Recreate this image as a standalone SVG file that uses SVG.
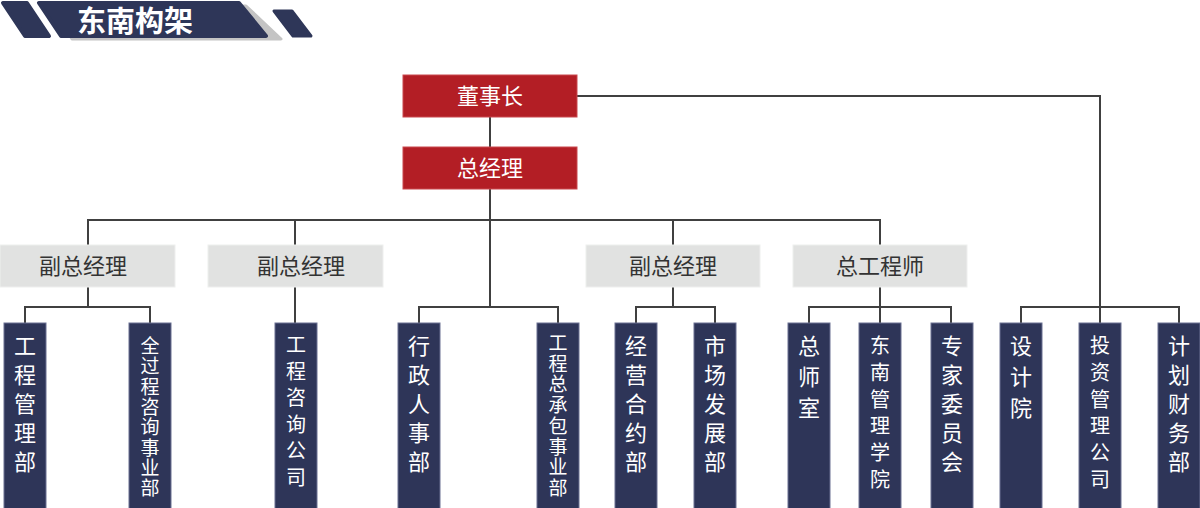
<svg xmlns="http://www.w3.org/2000/svg" width="1200" height="508" viewBox="0 0 1200 508">
<style>
.red{fill:#B31E25;stroke:#C9494E;stroke-width:1}
.gray{fill:#E1E2E1;stroke:#EEEFEE;stroke-width:1}
.dark{fill:#2E3558;stroke:#6A7092;stroke-width:1}
.tw{font-family:"Noto Sans CJK SC","Noto Sans",sans-serif;fill:#FFFFFF;font-size:22px;text-anchor:middle}
.tg{font-family:"Noto Sans CJK SC","Noto Sans",sans-serif;fill:#333333;font-size:22px;text-anchor:middle}
.tv{font-family:"Noto Sans CJK SC","Noto Sans",sans-serif;fill:#FFFFFF;font-size:22px;text-anchor:middle}
.tv6{font-family:"Noto Sans CJK SC","Noto Sans",sans-serif;fill:#FFFFFF;font-size:20px;text-anchor:middle}
.tv8{font-family:"Noto Sans CJK SC","Noto Sans",sans-serif;fill:#FFFFFF;font-size:19px;text-anchor:middle}
.ln{fill:none;stroke:#404040;stroke-width:2}
</style>
<g id="header">
<polygon points="3,3 27,3 49,36 25,36" fill="#2E3658" stroke="#2E3658" stroke-width="4" stroke-linejoin="round"/>
<polygon points="52,6 246,6 281,39 72,39" fill="#C4C4C4" stroke="#C4C4C4" stroke-width="3" stroke-linejoin="round"/>
<polygon points="39,3 239,3 266,36 61,36" fill="#2E3658" stroke="#2E3658" stroke-width="4" stroke-linejoin="round"/>
<polygon points="274,11 292,11 311,36 293,36" fill="#2E3658" stroke="#2E3658" stroke-width="3" stroke-linejoin="round"/>
<text x="135" y="32" style="font-family:'Noto Sans CJK SC',sans-serif;font-weight:bold;font-size:29px;fill:#FFFFFF;text-anchor:middle">东南构架</text>
</g>
<g id="connectors">
<path class="ln" d="M490,117 V147"/>
<path class="ln" d="M490,189 V307"/>
<path class="ln" d="M88,245 V220 H880 V245"/>
<path class="ln" d="M295,220 V245"/>
<path class="ln" d="M673,220 V245"/>
<path class="ln" d="M88,287 V307"/>
<path class="ln" d="M25,323 V307 H150 V323"/>
<path class="ln" d="M295,287 V323"/>
<path class="ln" d="M419,323 V307 H558 V323"/>
<path class="ln" d="M673,287 V307"/>
<path class="ln" d="M636,323 V307 H715 V323"/>
<path class="ln" d="M880,287 V323"/>
<path class="ln" d="M809,323 V307 H951 V323"/>
<path class="ln" d="M577,96 H1100 V323"/>
<path class="ln" d="M1021,323 V307 H1179 V323"/>
</g>
<g id="n-chairman"><rect class="red" x="403" y="75" width="174" height="42"/><text class="tw" x="490" y="104">董事长</text></g>
<g id="n-gm"><rect class="red" x="403" y="147" width="174" height="42"/><text class="tw" x="490" y="176">总经理</text></g>
<g id="n-vgm1"><rect class="gray" x="0" y="245" width="175" height="42"/><text class="tg" x="83" y="274">副总经理</text></g>
<g id="n-vgm2"><rect class="gray" x="208" y="245" width="175" height="42"/><text class="tg" x="301" y="274">副总经理</text></g>
<g id="n-vgm3"><rect class="gray" x="586" y="245" width="174" height="42"/><text class="tg" x="673" y="274">副总经理</text></g>
<g id="n-ce"><rect class="gray" x="793" y="245" width="174" height="42"/><text class="tg" x="880" y="274">总工程师</text></g>
<g id="n-d1"><rect class="dark" x="4" y="323" width="42" height="186"/><text class="tv"><tspan x="25" y="354">工</tspan><tspan x="25" y="383">程</tspan><tspan x="25" y="412">管</tspan><tspan x="25" y="441">理</tspan><tspan x="25" y="470">部</tspan></text></g>
<g id="n-d2"><rect class="dark" x="129" y="323" width="42" height="186"/><text class="tv8"><tspan x="150" y="353">全</tspan><tspan x="150" y="373.3">过</tspan><tspan x="150" y="393.6">程</tspan><tspan x="150" y="413.9">咨</tspan><tspan x="150" y="434.2">询</tspan><tspan x="150" y="454.5">事</tspan><tspan x="150" y="474.8">业</tspan><tspan x="150" y="495">部</tspan></text></g>
<g id="n-d3"><rect class="dark" x="275" y="323" width="42" height="186"/><text class="tv6"><tspan x="296" y="352">工</tspan><tspan x="296" y="378.6">程</tspan><tspan x="296" y="405.2">咨</tspan><tspan x="296" y="431.8">询</tspan><tspan x="296" y="458.4">公</tspan><tspan x="296" y="485">司</tspan></text></g>
<g id="n-d4"><rect class="dark" x="398" y="323" width="42" height="186"/><text class="tv"><tspan x="419" y="354">行</tspan><tspan x="419" y="383">政</tspan><tspan x="419" y="412">人</tspan><tspan x="419" y="441">事</tspan><tspan x="419" y="470">部</tspan></text></g>
<g id="n-d5"><rect class="dark" x="537" y="323" width="42" height="186"/><text class="tv8"><tspan x="558" y="350">工</tspan><tspan x="558" y="370.7">程</tspan><tspan x="558" y="391.4">总</tspan><tspan x="558" y="412.1">承</tspan><tspan x="558" y="432.8">包</tspan><tspan x="558" y="453.5">事</tspan><tspan x="558" y="474.2">业</tspan><tspan x="558" y="495">部</tspan></text></g>
<g id="n-d6"><rect class="dark" x="615" y="323" width="42" height="186"/><text class="tv"><tspan x="636" y="354">经</tspan><tspan x="636" y="383">营</tspan><tspan x="636" y="412">合</tspan><tspan x="636" y="441">约</tspan><tspan x="636" y="470">部</tspan></text></g>
<g id="n-d7"><rect class="dark" x="694" y="323" width="42" height="186"/><text class="tv"><tspan x="715" y="354">市</tspan><tspan x="715" y="383">场</tspan><tspan x="715" y="412">发</tspan><tspan x="715" y="441">展</tspan><tspan x="715" y="470">部</tspan></text></g>
<g id="n-d8"><rect class="dark" x="788" y="323" width="42" height="186"/><text class="tv"><tspan x="809" y="354">总</tspan><tspan x="809" y="385">师</tspan><tspan x="809" y="416">室</tspan></text></g>
<g id="n-d9"><rect class="dark" x="859" y="323" width="42" height="186"/><text class="tv6"><tspan x="880" y="353">东</tspan><tspan x="880" y="379.8">南</tspan><tspan x="880" y="406.6">管</tspan><tspan x="880" y="433.4">理</tspan><tspan x="880" y="460.2">学</tspan><tspan x="880" y="487">院</tspan></text></g>
<g id="n-d10"><rect class="dark" x="931" y="323" width="42" height="186"/><text class="tv"><tspan x="952" y="354">专</tspan><tspan x="952" y="383">家</tspan><tspan x="952" y="412">委</tspan><tspan x="952" y="441">员</tspan><tspan x="952" y="470">会</tspan></text></g>
<g id="n-d11"><rect class="dark" x="1000" y="323" width="42" height="186"/><text class="tv"><tspan x="1021" y="354">设</tspan><tspan x="1021" y="385">计</tspan><tspan x="1021" y="416">院</tspan></text></g>
<g id="n-d12"><rect class="dark" x="1079" y="323" width="42" height="186"/><text class="tv6"><tspan x="1100" y="353">投</tspan><tspan x="1100" y="379.8">资</tspan><tspan x="1100" y="406.6">管</tspan><tspan x="1100" y="433.4">理</tspan><tspan x="1100" y="460.2">公</tspan><tspan x="1100" y="487">司</tspan></text></g>
<g id="n-d13"><rect class="dark" x="1158" y="323" width="42" height="186"/><text class="tv"><tspan x="1179" y="354">计</tspan><tspan x="1179" y="383">划</tspan><tspan x="1179" y="412">财</tspan><tspan x="1179" y="441">务</tspan><tspan x="1179" y="470">部</tspan></text></g>
</svg>
